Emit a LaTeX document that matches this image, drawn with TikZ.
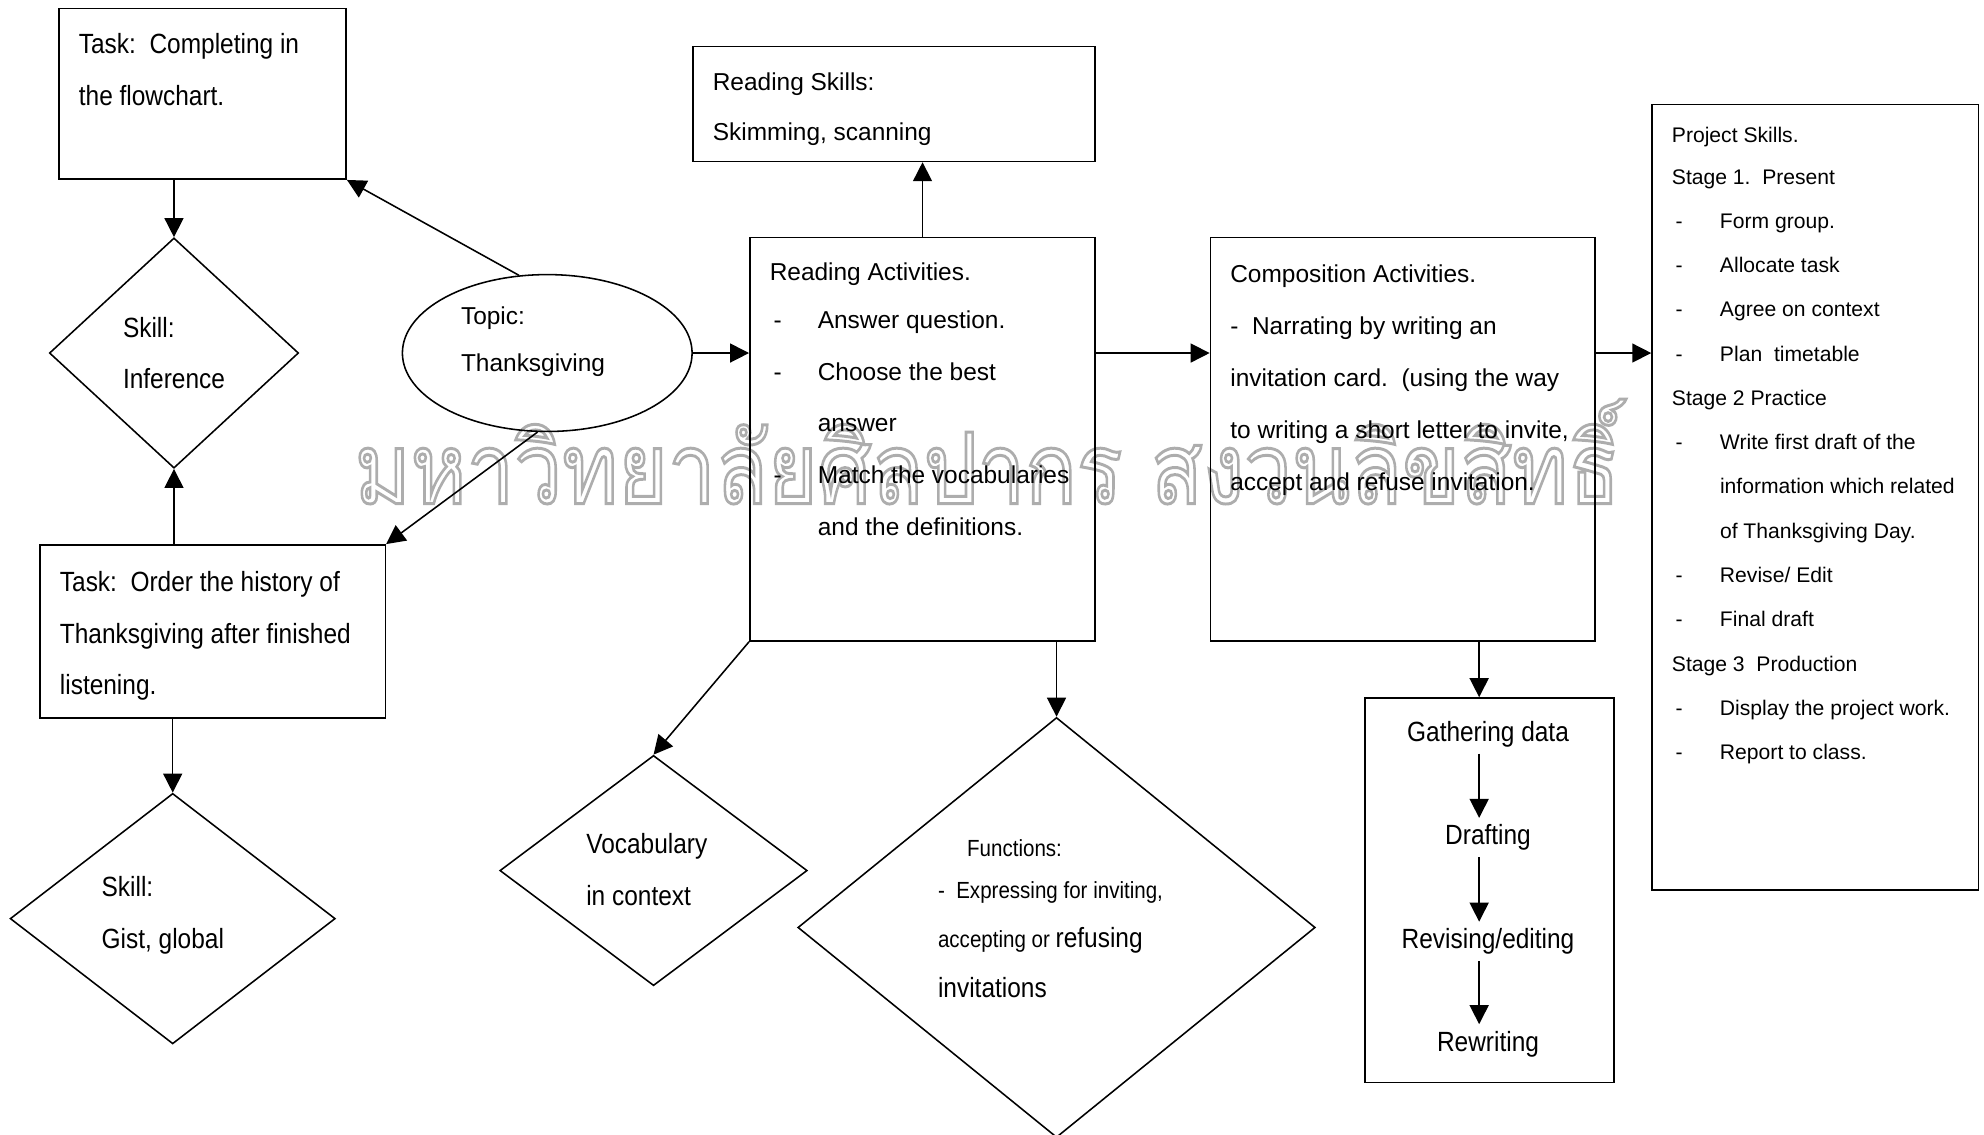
\documentclass[tikz,border=0pt]{standalone}
\usepackage{fontspec}
\usepackage{graphicx}
\usepackage{xcolor}
\setmainfont{Liberation Sans}
\newfontfamily\narrowfont[FakeStretch=0.88]{Liberation Sans}
\newfontfamily\thaifont[Script=Thai]{Loma}
\usepackage{tikz}
\usetikzlibrary{positioning, shapes.geometric, arrows.meta, calc}

\newcommand{\regtxt}{\fontsize{11pt}{0.82cm}\selectfont}
\newcommand{\nartxt}{\narrowfont\fontsize{12.5pt}{0.82cm}\selectfont}
\newcommand{\smltxt}{\fontsize{9.5pt}{0.7cm}\selectfont}
\newcommand{\dsh}{\makebox[0.76cm][l]{\hspace{0.06cm}-}}
\newcommand{\skipin}{\hspace*{0.76cm}}

\tikzset{
    boxnode/.style={
        draw,
        line width=0.7pt,
        anchor=north west,
        inner sep=0pt
    },
    dianode/.style={
        draw,
        diamond,
        line width=0.7pt,
        inner sep=0pt,
        align=left,
        font=\nartxt
    },
    txtnode/.style={
        anchor=north west,
        inner sep=0pt,
        align=left,
        font=\regtxt
    },
    stepnode/.style={
        inner sep=0.1cm,
        font=\nartxt
    },
    ptr/.style={
        -{Triangle[length=0.3cm, width=0.3cm]},
        line width=0.7pt
    }
}

\begin{document}
\begin{tikzpicture}[x=0.02cm, y=-0.02cm]
    \useasboundingbox (0,0) rectangle (1568,897);

    % watermark
    \node[anchor=north west, inner sep=0pt, text=black!32] (mark) at (280,315)
        {\resizebox*{20cm}{1.66cm}{\special{pdf:literal direct 1 Tr 0.3 w}\thaifont มหาวิทยาลัยศิลปากร สงวนลิขสิทธิ์\special{pdf:literal direct 0 Tr}}};

    % left column
    \node[boxnode, minimum width=4.54cm, minimum height=2.70cm] (taskA) at (46,6) {};
    \node[txtnode, font=\nartxt] (taskAtxt) at (62,26) {Task:~~Completing in\\the flowchart.};
    \node[dianode, minimum width=3.94cm, minimum height=3.64cm] (infer) at (137.5,279) {Skill:\\Inference};
    \node[boxnode, minimum width=5.46cm, minimum height=2.74cm] (taskB) at (31,430) {};
    \node[txtnode, font=\nartxt] (taskBtxt) at (47,451) {Task:~~Order the history of\\Thanksgiving after finished\\listening.};
    \node[dianode, minimum width=5.14cm, minimum height=3.96cm] (gist) at (136.5,726) {};
    \node[txtnode, font=\nartxt] (gisttxt) at (80,692) {Skill:\\Gist, global};

    % topic
    \node[draw, ellipse, line width=0.7pt, minimum width=4.58cm, minimum height=2.48cm] (topic) at (432.5,279) {};
    \node[txtnode, font=\fontsize{11pt}{0.74cm}\selectfont] (topictxt) at (364,242) {Topic:\\Thanksgiving};

    % reading
    \node[boxnode, minimum width=6.36cm, minimum height=1.82cm] (rskill) at (547,36) {};
    \node[txtnode, font=\fontsize{11pt}{0.8cm}\selectfont] (rskilltxt) at (563,57) {Reading Skills:\\Skimming, scanning};
    \node[boxnode, minimum width=5.46cm, minimum height=6.38cm] (ract) at (592,187) {};
    \node[txtnode] (racttxt) at (608,207) {Reading Activities.\\[-0.06cm]
        \dsh Answer question.\\
        \dsh Choose the best\\
        \skipin answer\\
        \dsh Match the vocabularies\\
        \skipin and the definitions.};
    \node[dianode, minimum width=4.86cm, minimum height=3.64cm] (vocab) at (516.5,688) {};
    \node[txtnode, font=\nartxt] (vocabtxt) at (463,658) {Vocabulary\\in context};
    \node[dianode, minimum width=8.18cm, minimum height=6.64cm] (func) at (835,733) {};
    \node[txtnode, font=\narrowfont\fontsize{10.5pt}{0.79cm}\selectfont] (functxt) at (741,663)
        {\hspace*{0.46cm}Functions:\\[-0.13cm]
         -~~Expressing for inviting,\\
         accepting or {\fontsize{12.5pt}{0.79cm}\selectfont refusing}\\
         {\fontsize{12.5pt}{0.79cm}\selectfont invitations}};

    % composition
    \node[boxnode, minimum width=6.08cm, minimum height=6.38cm] (comp) at (956,187) {};
    \node[txtnode] (comptxt) at (972,209) {Composition Activities.\\
        -~~Narrating by writing an\\
        invitation card.~~(using the way\\
        to writing a short letter to invite,\\
        accept and refuse invitation.};
    \node[boxnode, minimum width=3.94cm, minimum height=6.08cm] (write) at (1078,551) {};
    \node[stepnode] (gather) at (1176,580) {Gathering data};
    \node[stepnode] (draft) at (1176,662) {Drafting};
    \node[stepnode] (revise) at (1176,744) {Revising/editing};
    \node[stepnode] (rewrite) at (1176,825) {Rewriting};
    \coordinate (wx) at (1169,530);

    % project
    \node[boxnode, minimum width=5.16cm, minimum height=12.42cm] (proj) at (1305,82) {};
    \node[txtnode, font=\smltxt] (projtxt) at (1321,100) {Project Skills.\\[-0.04cm]
        Stage 1.~~Present\\
        \dsh Form group.\\
        \dsh Allocate task\\
        \dsh Agree on context\\
        \dsh Plan~~timetable\\
        Stage 2 Practice\\
        \dsh Write first draft of the\\
        \skipin information which related\\
        \skipin of Thanksgiving Day.\\
        \dsh Revise/ Edit\\
        \dsh Final draft\\
        Stage 3~~Production\\
        \dsh Display the project work.\\
        \dsh Report to class.};

    % arrows
    \draw[ptr] (infer.north |- taskA.south) -- (infer.north);
    \draw[ptr] (infer.south |- taskB.north) -- (infer.south);
    \draw[ptr] (gist.north |- taskB.south) -- (gist.north);
    \draw[ptr] (topic.110) -- (taskA.south east);
    \draw[ptr] (topic.263) -- (taskB.north east);
    \draw[ptr] (topic.east) -- (topic.east -| ract.west);
    \draw[ptr] (ract.north) -- (ract.north |- rskill.south);
    \draw[ptr] (ract.east |- topic.east) -- (comp.west |- topic.east);
    \draw[ptr] (comp.east |- topic.east) -- (proj.west |- topic.east);
    \draw[ptr] (ract.south west) -- (vocab.north);
    \draw[ptr] (func.north |- ract.south) -- (func.north);
    \draw[ptr] (comp.south -| wx) -- (write.north -| wx);
    \draw[ptr] (gather.south -| wx) -- (draft.north -| wx);
    \draw[ptr] (draft.south -| wx) -- (revise.north -| wx);
    \draw[ptr] (revise.south -| wx) -- (rewrite.north -| wx);
\end{tikzpicture}
\end{document}
